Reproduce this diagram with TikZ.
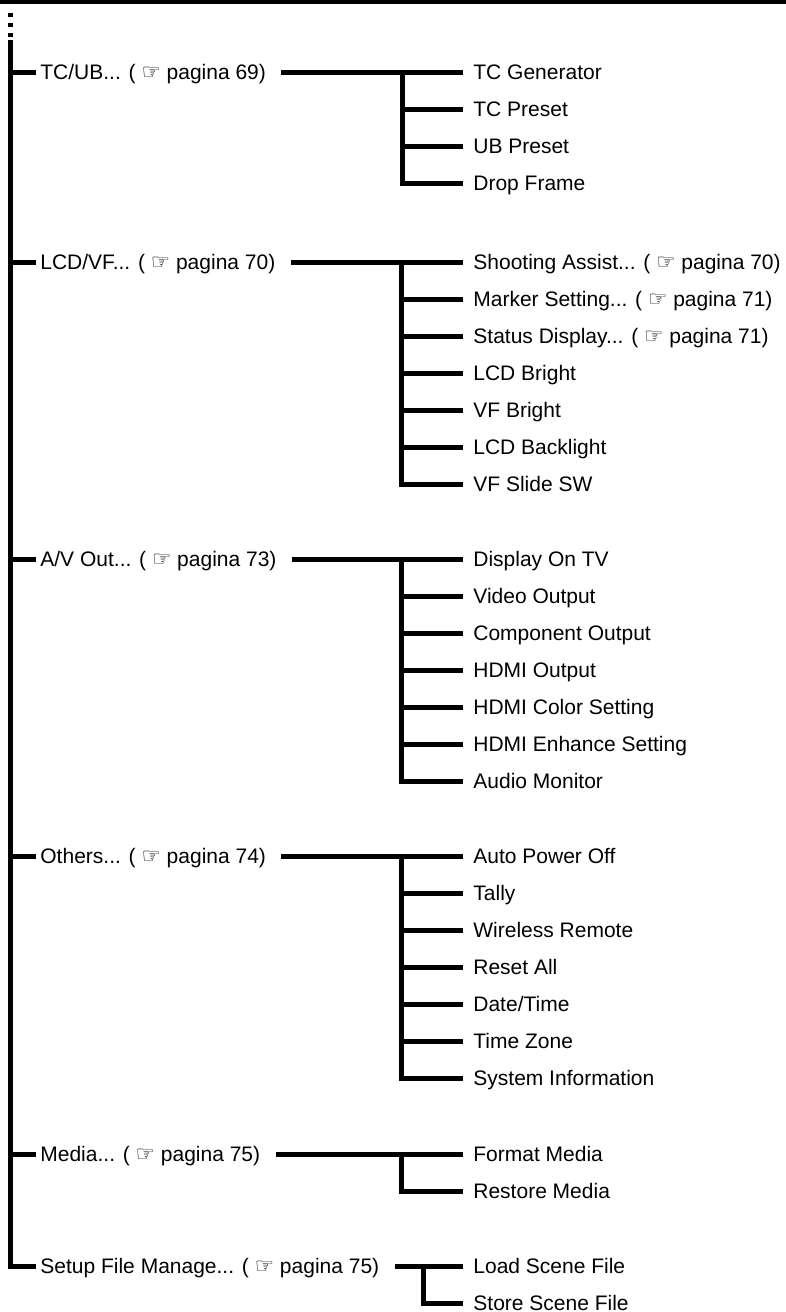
\documentclass[tikz,border=0pt]{standalone}
\usepackage{fontspec}
\setmainfont{Liberation Sans}
\newfontfamily\handfont{DejaVu Sans}
\usetikzlibrary{positioning}

\newcommand{\pag}[1]{( {\handfont\fontsize{10.8}{10}\selectfont\char"261E} pagina #1)}

\begin{document}
\begin{tikzpicture}[x=0.5pt, y=-0.5pt,
  tree/.style={line width=2.5pt, line cap=butt, line join=miter},
  item/.style={anchor=west, inner sep=0pt, text height=7.5pt, text depth=0pt,
    font=\fontsize{10.5}{12}\selectfont}]
\useasboundingbox (0,0) rectangle (786,1312);

% top rule and dots
\fill (0,0) rectangle (786,4);
\foreach \d in {13,23,33}
  \fill (7.5,\d) rectangle (12.5,\d+4);

% first level
\node[item] (tcub) at (40,72) {TC/UB... \pag{69}};
\node[item] (lcdvf) at (40,262) {LCD/VF... \pag{70}};
\node[item] (avout) at (40,559) {A/V Out... \pag{73}};
\node[item] (others) at (40,856) {Others... \pag{74}};
\node[item] (media) at (40,1154) {Media... \pag{75}};
\node[item] (setup) at (40,1266) {Setup File Manage... \pag{75}};

% trunk
\coordinate (top) at (10,40);
\draw[tree] (top) |- ([xshift=-2pt]setup.west);
\foreach \n in {tcub,lcdvf,avout,others,media}
  \draw[tree] (top|-\n.west) -- ([xshift=-2pt]\n.west);

% TC/UB
\foreach \t [count=\i from 0] in {TC Generator,TC Preset,UB Preset,Drop Frame}
  \node[item] (tc\i) at (473,72+37*\i) {\t};
\coordinate (tcj) at (402,72);
\draw[tree] ([xshift=7.5pt]tcub.east) -- ([xshift=-5pt]tc0.west);
\draw[tree] (tcj) |- ([xshift=-5pt]tc3.west);
\foreach \i in {1,2}
  \draw[tree] (tcj|-tc\i.west) -- ([xshift=-5pt]tc\i.west);

% LCD/VF
\node[item] (lcd0) at (473,262) {Shooting Assist... \pag{70}};
\node[item] (lcd1) at (473,299) {Marker Setting... \pag{71}};
\node[item] (lcd2) at (473,336) {Status Display... \pag{71}};
\foreach \t [count=\i from 3] in {LCD Bright,VF Bright,LCD Backlight,VF Slide SW}
  \node[item] (lcd\i) at (473,262+37*\i) {\t};
\coordinate (lcdj) at (401,262);
\draw[tree] ([xshift=7.5pt]lcdvf.east) -- ([xshift=-5pt]lcd0.west);
\draw[tree] (lcdj) |- ([xshift=-5pt]lcd6.west);
\foreach \i in {1,...,5}
  \draw[tree] (lcdj|-lcd\i.west) -- ([xshift=-5pt]lcd\i.west);

% A/V Out
\foreach \t [count=\i from 0] in {Display On TV,Video Output,Component Output,HDMI Output,
    HDMI Color Setting,HDMI Enhance Setting,Audio Monitor}
  \node[item] (av\i) at (473,559+37*\i) {\t};
\coordinate (avj) at (401,559);
\draw[tree] ([xshift=7.5pt]avout.east) -- ([xshift=-5pt]av0.west);
\draw[tree] (avj) |- ([xshift=-5pt]av6.west);
\foreach \i in {1,...,5}
  \draw[tree] (avj|-av\i.west) -- ([xshift=-5pt]av\i.west);

% Others
\foreach \t [count=\i from 0] in {Auto Power Off,Tally,Wireless Remote,Reset All,
    Date/Time,Time Zone,System Information}
  \node[item] (ot\i) at (473,856+37*\i) {\t};
\coordinate (otj) at (401,856);
\draw[tree] ([xshift=7.5pt]others.east) -- ([xshift=-5pt]ot0.west);
\draw[tree] (otj) |- ([xshift=-5pt]ot6.west);
\foreach \i in {1,...,5}
  \draw[tree] (otj|-ot\i.west) -- ([xshift=-5pt]ot\i.west);

% Media
\node[item] (md0) at (473,1154) {Format Media};
\node[item] (md1) at (473,1191) {Restore Media};
\coordinate (mdj) at (401,1154);
\draw[tree] ([xshift=7.5pt]media.east) -- ([xshift=-5pt]md0.west);
\draw[tree] (mdj) |- ([xshift=-5pt]md1.west);

% Setup
\node[item] (sf0) at (473,1266) {Load Scene File};
\node[item] (sf1) at (473,1303) {Store Scene File};
\coordinate (sfj) at (423,1266);
\draw[tree] ([xshift=7.5pt]setup.east) -- ([xshift=-5pt]sf0.west);
\draw[tree] (sfj) |- ([xshift=-5pt]sf1.west);
\end{tikzpicture}
\end{document}
